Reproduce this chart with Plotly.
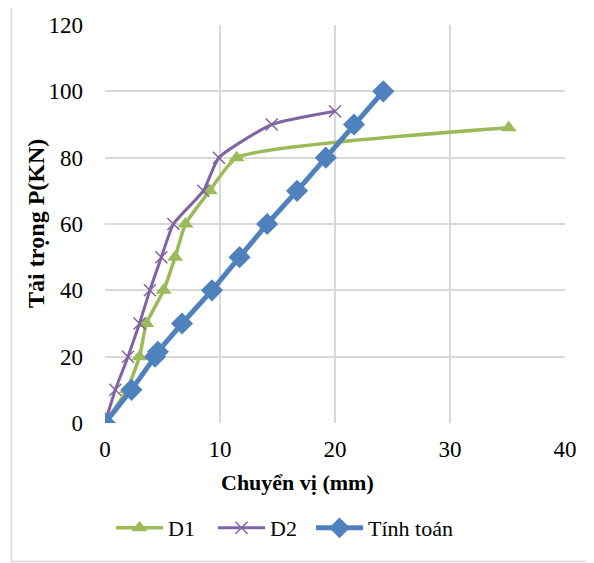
import plotly.graph_objects as go

d1_x = [0, 1.9, 3.0, 3.6, 5.1, 6.1, 7.0, 9.1, 11.45, 35.1]
d1_y = [0, 10, 20, 30, 40, 50, 60, 70, 80, 89]

d2_x = [0, 0.9, 2.0, 3.0, 3.9, 4.9, 5.95, 8.55, 9.9, 14.5, 20.0]
d2_y = [0, 10, 20, 30, 40, 50, 60, 70, 80, 90, 94]

tt_x = [0, 2.3, 4.35, 4.6, 6.7, 9.3, 11.7, 14.1, 16.7, 19.2, 21.65, 24.2]
tt_y = [0, 10, 20, 21.5, 30, 40, 50, 60, 70, 80, 90, 100]

font_family = "Liberation Serif, Times New Roman, serif"

fig = go.Figure()
fig.add_trace(go.Scatter(
    x=d1_x, y=d1_y, name="D1", mode="lines+markers", legend="legend",
    line=dict(color="#9BBB59", width=3.5, shape="spline", smoothing=0.5),
    marker=dict(symbol="triangle-up", size=14, color="#9BBB59"),
))
fig.add_trace(go.Scatter(
    x=d2_x, y=d2_y, name="D2", mode="lines+markers", legend="legend2",
    line=dict(color="#8064A2", width=3, shape="spline", smoothing=0.5),
    marker=dict(symbol="x-thin", size=12, color="#8064A2",
                line=dict(color="#8064A2", width=1.5)),
))
fig.add_trace(go.Scatter(
    x=tt_x, y=tt_y, name="Tính toán", mode="lines+markers", legend="legend3",
    line=dict(color="#4F81BD", width=5),
    marker=dict(symbol="diamond", size=17, color="#4F81BD"),
))

# page body has an 8px default margin; work in screen coordinates
OFF = 8
W, H = 594, 563
SL, SR, ST, SB = 105, 565, 25, 423  # plot area in screen pixels
L, T = SL - OFF, ST - OFF
R = W - (SR - OFF)
B = H - (SB - OFF)
pw, ph = W - L - R, H - T - B

def px(xs):
    return (xs - OFF - L) / pw

def py(ys):
    return (H - B - (ys - OFF)) / ph

fig.add_shape(type="rect", xref="paper", yref="paper",
              x0=px(11.5), x1=px(592), y0=py(561.5), y1=py(2.5),
              line=dict(color="#d9d9d9", width=1.5), layer="below")

fig.add_annotation(text="<b>Tải trọng P(KN)</b>", xref="paper", yref="paper",
                   x=px(36), y=py(224), textangle=-90, showarrow=False,
                   xanchor="center", yanchor="middle",
                   font=dict(size=24, family=font_family, color="black"))
fig.add_annotation(text="<b>Chuyển vị (mm)</b>", xref="paper", yref="paper",
                   x=px(297), y=py(482), showarrow=False,
                   xanchor="center", yanchor="middle",
                   font=dict(size=22, family=font_family, color="black"))

def leg(xs):
    return dict(orientation="h", x=px(xs), xanchor="left", y=py(528), yanchor="middle",
                font=dict(size=22, family=font_family), itemwidth=47,
                bgcolor="rgba(0,0,0,0)")

fig.update_layout(
    width=W, height=H,
    margin=dict(l=L, r=R, t=T, b=B, autoexpand=False),
    paper_bgcolor="white", plot_bgcolor="white",
    font=dict(family=font_family, size=22, color="black"),
    showlegend=True,
    legend=leg(111), legend2=leg(213), legend3=leg(311),
    xaxis=dict(range=[0, 40], dtick=10, showgrid=True, gridcolor="#d9d9d9", gridwidth=1.5,
               zeroline=False, showline=False, ticks="", ticklabelstandoff=10, automargin=False,
               tickfont=dict(size=23, family=font_family)),
    yaxis=dict(range=[0, 120], dtick=20, showgrid=True, gridcolor="#d9d9d9", gridwidth=1.5,
               zeroline=False, showline=False, ticks="", ticklabelstandoff=21, automargin=False,
               tickfont=dict(size=23, family=font_family)),
)

fig.write_html("out.html")
